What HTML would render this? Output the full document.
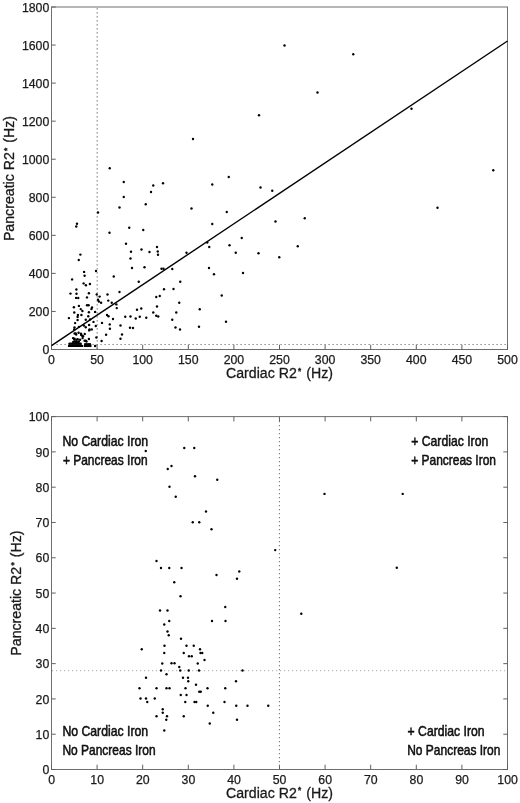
<!DOCTYPE html>
<html><head><meta charset="utf-8"><title>Cardiac vs Pancreatic R2*</title>
<style>
html,body{margin:0;padding:0;background:#fff}
svg{display:block}
text{font-family:"Liberation Sans",sans-serif;fill:#1a1a1a}
.tk{font-size:12.3px;stroke:#1a1a1a;stroke-width:.25px}
.lb{font-size:14.8px;stroke:#1a1a1a;stroke-width:.3px}
.q{font-size:14px;fill:#000;stroke:#000;stroke-width:.5px}
</style></head><body>
<svg width="520" height="803" viewBox="0 0 520 803">
<rect width="520" height="803" fill="#fff"/>

<g fill="none" stroke="#6e6e6e" stroke-width="1">
<rect x="51.5" y="7" width="456.0" height="342.5"/>
<path d="M51.5 349.5v-4.8M97.1 349.5v-4.8M142.7 349.5v-4.8M188.3 349.5v-4.8M233.9 349.5v-4.8M279.5 349.5v-4.8M325.1 349.5v-4.8M370.7 349.5v-4.8M416.3 349.5v-4.8M461.9 349.5v-4.8M507.5 349.5v-4.8M51.5 349.5h4.2M51.5 311.445h4.2M51.5 273.39h4.2M51.5 235.335h4.2M51.5 197.28h4.2M51.5 159.225h4.2M51.5 121.17h4.2M51.5 83.115h4.2M51.5 45.06h4.2M51.5 7.005h4.2" stroke="#606060"/>
</g>
<g fill="none" stroke="#777" stroke-width="1.2" stroke-dasharray="1.2 2.8">
<path d="M97.2 8.2V349.5"/>
<path d="M52.5 344.5H507.5"/>
</g>
<path d="M51.5 345.6L507.5 41" stroke="#000" stroke-width="1.4" fill="none"/>
<g fill="#000"><circle cx="284.5" cy="45.5" r="1.2"/><circle cx="353.25" cy="54.25" r="1.2"/><circle cx="317.5" cy="92.5" r="1.2"/><circle cx="109.75" cy="168.25" r="1.2"/><circle cx="123.75" cy="182" r="1.2"/><circle cx="153.25" cy="185.5" r="1.2"/><circle cx="163" cy="183.25" r="1.2"/><circle cx="151" cy="192" r="1.2"/><circle cx="123.75" cy="197" r="1.2"/><circle cx="259" cy="115.25" r="1.2"/><circle cx="193" cy="139" r="1.2"/><circle cx="228.75" cy="177" r="1.2"/><circle cx="212.25" cy="184.5" r="1.2"/><circle cx="260.5" cy="187.5" r="1.2"/><circle cx="272.25" cy="190.75" r="1.2"/><circle cx="411.5" cy="108.75" r="1.2"/><circle cx="493.25" cy="170.25" r="1.2"/><circle cx="119.5" cy="207.5" r="1.2"/><circle cx="145.75" cy="204.25" r="1.2"/><circle cx="98" cy="212.5" r="1.2"/><circle cx="77" cy="223.75" r="1.2"/><circle cx="76.25" cy="226.5" r="1.2"/><circle cx="109.5" cy="232.75" r="1.2"/><circle cx="129.25" cy="227.75" r="1.2"/><circle cx="143.25" cy="230" r="1.2"/><circle cx="126" cy="243.75" r="1.2"/><circle cx="157" cy="247" r="1.2"/><circle cx="141.5" cy="249.5" r="1.2"/><circle cx="131" cy="251.75" r="1.2"/><circle cx="149.5" cy="252" r="1.2"/><circle cx="157.75" cy="251.5" r="1.2"/><circle cx="158" cy="254.75" r="1.2"/><circle cx="130.5" cy="258.5" r="1.2"/><circle cx="132" cy="268" r="1.2"/><circle cx="144.5" cy="267.25" r="1.2"/><circle cx="161.5" cy="268.75" r="1.2"/><circle cx="163.5" cy="268.75" r="1.2"/><circle cx="172.25" cy="269" r="1.2"/><circle cx="113.75" cy="276.5" r="1.2"/><circle cx="138.75" cy="281.75" r="1.2"/><circle cx="180.25" cy="281.75" r="1.2"/><circle cx="164" cy="289.25" r="1.2"/><circle cx="173.5" cy="289" r="1.2"/><circle cx="119.5" cy="292" r="1.2"/><circle cx="159.75" cy="296" r="1.2"/><circle cx="156.25" cy="297" r="1.2"/><circle cx="80.4" cy="254.6" r="1.2"/><circle cx="78.75" cy="260" r="1.2"/><circle cx="96" cy="271" r="1.2"/><circle cx="84.1" cy="271.9" r="1.2"/><circle cx="84.6" cy="275.75" r="1.2"/><circle cx="72.1" cy="279.4" r="1.2"/><circle cx="83.6" cy="283.4" r="1.2"/><circle cx="85.9" cy="285.25" r="1.2"/><circle cx="89.9" cy="284" r="1.2"/><circle cx="76.4" cy="289.5" r="1.2"/><circle cx="70.5" cy="293.6" r="1.2"/><circle cx="76.5" cy="293.75" r="1.2"/><circle cx="88.9" cy="293.25" r="1.2"/><circle cx="96.75" cy="294.5" r="1.2"/><circle cx="99.6" cy="296.6" r="1.2"/><circle cx="107.5" cy="294.5" r="1.2"/><circle cx="76.1" cy="297.9" r="1.2"/><circle cx="78.25" cy="298" r="1.2"/><circle cx="87" cy="297.4" r="1.2"/><circle cx="98" cy="299.75" r="1.2"/><circle cx="191.5" cy="208.5" r="1.2"/><circle cx="226.75" cy="212" r="1.2"/><circle cx="212.25" cy="224" r="1.2"/><circle cx="275.5" cy="221.5" r="1.2"/><circle cx="304.75" cy="218.25" r="1.2"/><circle cx="241.75" cy="238" r="1.2"/><circle cx="207.25" cy="242.5" r="1.2"/><circle cx="209.25" cy="247" r="1.2"/><circle cx="229.5" cy="245.25" r="1.2"/><circle cx="297.75" cy="246.25" r="1.2"/><circle cx="186.5" cy="252.75" r="1.2"/><circle cx="235.75" cy="252.75" r="1.2"/><circle cx="258.5" cy="253.25" r="1.2"/><circle cx="279.25" cy="257.25" r="1.2"/><circle cx="209" cy="268" r="1.2"/><circle cx="214" cy="274.25" r="1.2"/><circle cx="243" cy="273" r="1.2"/><circle cx="221.75" cy="295.5" r="1.2"/><circle cx="437.5" cy="207.75" r="1.2"/><circle cx="73.9" cy="307.25" r="1.2"/><circle cx="78.9" cy="305.9" r="1.2"/><circle cx="87" cy="305.25" r="1.2"/><circle cx="88.6" cy="305.25" r="1.2"/><circle cx="92" cy="307.5" r="1.2"/><circle cx="91.4" cy="309.1" r="1.2"/><circle cx="80.75" cy="309.1" r="1.2"/><circle cx="82.4" cy="311" r="1.2"/><circle cx="74.25" cy="312.5" r="1.2"/><circle cx="88.9" cy="312.25" r="1.2"/><circle cx="95.1" cy="311.9" r="1.2"/><circle cx="77.9" cy="315" r="1.2"/><circle cx="77.6" cy="316.9" r="1.2"/><circle cx="81.4" cy="315" r="1.2"/><circle cx="88.25" cy="316.25" r="1.2"/><circle cx="68.9" cy="318.1" r="1.2"/><circle cx="77.6" cy="320" r="1.2"/><circle cx="85.75" cy="319.75" r="1.2"/><circle cx="90.1" cy="319.4" r="1.2"/><circle cx="75.1" cy="323.1" r="1.2"/><circle cx="93.5" cy="321.9" r="1.2"/><circle cx="102" cy="322.9" r="1.2"/><circle cx="107" cy="315" r="1.2"/><circle cx="108.5" cy="316.25" r="1.2"/><circle cx="113" cy="319" r="1.2"/><circle cx="109.75" cy="324.4" r="1.2"/><circle cx="109.9" cy="328.75" r="1.2"/><circle cx="106.1" cy="334.75" r="1.2"/><circle cx="101.6" cy="341" r="1.2"/><circle cx="96.4" cy="337.5" r="1.2"/><circle cx="95.75" cy="326" r="1.2"/><circle cx="89.1" cy="325" r="1.2"/><circle cx="83.9" cy="325.6" r="1.2"/><circle cx="85.75" cy="327.25" r="1.2"/><circle cx="89.5" cy="329.4" r="1.2"/><circle cx="91.75" cy="329.4" r="1.2"/><circle cx="74.5" cy="327.5" r="1.2"/><circle cx="74.25" cy="329.4" r="1.2"/><circle cx="78.9" cy="326.9" r="1.2"/><circle cx="75.75" cy="333.5" r="1.2"/><circle cx="78.6" cy="332.75" r="1.2"/><circle cx="81" cy="333.75" r="1.2"/><circle cx="82" cy="335.6" r="1.2"/><circle cx="84.75" cy="334" r="1.2"/><circle cx="74.5" cy="338.75" r="1.2"/><circle cx="76.4" cy="339.75" r="1.2"/><circle cx="80.1" cy="339.75" r="1.2"/><circle cx="82.6" cy="338.1" r="1.2"/><circle cx="85.75" cy="340.6" r="1.2"/><circle cx="88.9" cy="339" r="1.2"/><circle cx="95.1" cy="346" r="1.2"/><circle cx="98.9" cy="301.5" r="1.2"/><circle cx="101.1" cy="302.75" r="1.2"/><circle cx="108.25" cy="300.6" r="1.2"/><circle cx="111.75" cy="302.75" r="1.2"/><circle cx="116.4" cy="304.4" r="1.2"/><circle cx="116.75" cy="308.1" r="1.2"/><circle cx="73.1" cy="338.1" r="1.2"/><circle cx="74.2" cy="339.6" r="1.2"/><circle cx="77.7" cy="339.2" r="1.2"/><circle cx="75" cy="341.5" r="1.2"/><circle cx="77" cy="342" r="1.2"/><circle cx="78.8" cy="341.5" r="1.2"/><circle cx="84.6" cy="340.8" r="1.2"/><circle cx="86.5" cy="341.5" r="1.2"/><circle cx="81.2" cy="335" r="1.2"/><circle cx="83" cy="336.2" r="1.2"/><circle cx="76.2" cy="334.6" r="1.2"/><circle cx="74.6" cy="333.5" r="1.2"/><circle cx="89.2" cy="330.4" r="1.2"/><circle cx="179.25" cy="302.75" r="1.2"/><circle cx="157" cy="306.5" r="1.2"/><circle cx="141.25" cy="308.5" r="1.2"/><circle cx="137" cy="309.75" r="1.2"/><circle cx="199.75" cy="309.25" r="1.2"/><circle cx="153.25" cy="312.5" r="1.2"/><circle cx="176.25" cy="312.5" r="1.2"/><circle cx="156.25" cy="315.75" r="1.2"/><circle cx="158.25" cy="316.5" r="1.2"/><circle cx="125.25" cy="316.75" r="1.2"/><circle cx="130.5" cy="316.5" r="1.2"/><circle cx="139.75" cy="316.75" r="1.2"/><circle cx="135.75" cy="318.5" r="1.2"/><circle cx="146.25" cy="317.75" r="1.2"/><circle cx="172.25" cy="319.75" r="1.2"/><circle cx="226" cy="321.75" r="1.2"/><circle cx="120.5" cy="325.5" r="1.2"/><circle cx="130" cy="327.75" r="1.2"/><circle cx="133" cy="328" r="1.2"/><circle cx="175.5" cy="327.5" r="1.2"/><circle cx="180" cy="329.5" r="1.2"/><circle cx="199" cy="326.75" r="1.2"/><circle cx="122" cy="334.5" r="1.2"/><circle cx="120.5" cy="338.75" r="1.2"/><circle cx="69.5" cy="343.7" r="1.2"/><circle cx="70.9" cy="343.7" r="1.2"/><circle cx="72.3" cy="343.7" r="1.2"/><circle cx="73.7" cy="343.7" r="1.2"/><circle cx="75.1" cy="343.7" r="1.2"/><circle cx="76.5" cy="343.7" r="1.2"/><circle cx="77.9" cy="343.7" r="1.2"/><circle cx="79.3" cy="343.7" r="1.2"/><circle cx="80.7" cy="343.7" r="1.2"/><circle cx="69" cy="345.9" r="1.2"/><circle cx="70.3" cy="345.9" r="1.2"/><circle cx="71.6" cy="345.9" r="1.2"/><circle cx="72.9" cy="345.9" r="1.2"/><circle cx="74.2" cy="345.9" r="1.2"/><circle cx="75.5" cy="345.9" r="1.2"/><circle cx="76.8" cy="345.9" r="1.2"/><circle cx="78.1" cy="345.9" r="1.2"/><circle cx="79.4" cy="345.9" r="1.2"/><circle cx="80.7" cy="345.9" r="1.2"/><circle cx="82" cy="345.9" r="1.2"/><circle cx="84.8" cy="345.9" r="1.2"/><circle cx="86.2" cy="345.9" r="1.2"/><circle cx="87.6" cy="345.9" r="1.2"/><circle cx="89" cy="345.9" r="1.2"/><circle cx="90.4" cy="345.9" r="1.2"/><circle cx="85.2" cy="344.2" r="1.2"/><circle cx="86.8" cy="344.2" r="1.2"/><circle cx="88.4" cy="344.2" r="1.2"/><circle cx="90" cy="344.2" r="1.2"/><circle cx="75.5" cy="342.3" r="1.2"/><circle cx="78.2" cy="342.4" r="1.2"/><circle cx="73.2" cy="342" r="1.2"/></g>
<g class="tk" text-anchor="end">
<text x="49.3" y="354.20">0</text>
<text x="49.3" y="316.14">200</text>
<text x="49.3" y="278.09">400</text>
<text x="49.3" y="240.03">600</text>
<text x="49.3" y="201.98">800</text>
<text x="49.3" y="163.92">1000</text>
<text x="49.3" y="125.87">1200</text>
<text x="49.3" y="87.82">1400</text>
<text x="49.3" y="49.76">1600</text>
<text x="49.3" y="11.70">1800</text>
</g>
<g class="tk" text-anchor="middle">
<text x="51.5" y="363.6">0</text>
<text x="97.1" y="363.6">50</text>
<text x="142.7" y="363.6">100</text>
<text x="188.3" y="363.6">150</text>
<text x="233.9" y="363.6">200</text>
<text x="279.5" y="363.6">250</text>
<text x="325.1" y="363.6">300</text>
<text x="370.7" y="363.6">350</text>
<text x="416.3" y="363.6">400</text>
<text x="461.9" y="363.6">450</text>
<text x="507.5" y="363.6">500</text>
</g>
<text class="lb" text-anchor="middle" transform="translate(279.5 378.1) scale(.957 1)">Cardiac R2<tspan font-size="8.5" font-weight="bold" dx="1.4" dy="-4.4">*</tspan><tspan dy="4.4" dx="1.2"> (Hz)</tspan></text>
<text class="lb" text-anchor="middle" transform="translate(14 178.5) rotate(-90) scale(.957 1)">Pancreatic R2<tspan font-size="8.5" font-weight="bold" dx="1.4" dy="-4.4">*</tspan><tspan dy="4.4" dx="1.2"> (Hz)</tspan></text>
<g fill="none" stroke="#6e6e6e" stroke-width="1">
<rect x="51.5" y="416.6" width="456.0" height="352.9"/>
<path d="M51.5 769.5v-4.8M51.5 416.6v4.8M97.1 769.5v-4.8M97.1 416.6v4.8M142.7 769.5v-4.8M142.7 416.6v4.8M188.3 769.5v-4.8M188.3 416.6v4.8M233.9 769.5v-4.8M233.9 416.6v4.8M279.5 769.5v-4.8M279.5 416.6v4.8M325.1 769.5v-4.8M325.1 416.6v4.8M370.7 769.5v-4.8M370.7 416.6v4.8M416.3 769.5v-4.8M416.3 416.6v4.8M461.9 769.5v-4.8M461.9 416.6v4.8M507.5 769.5v-4.8M507.5 416.6v4.8M51.5 769.5h4.2M507.5 769.5h-4.2M51.5 734.21h4.2M507.5 734.21h-4.2M51.5 698.92h4.2M507.5 698.92h-4.2M51.5 663.63h4.2M507.5 663.63h-4.2M51.5 628.34h4.2M507.5 628.34h-4.2M51.5 593.05h4.2M507.5 593.05h-4.2M51.5 557.76h4.2M507.5 557.76h-4.2M51.5 522.47h4.2M507.5 522.47h-4.2M51.5 487.18h4.2M507.5 487.18h-4.2M51.5 451.89h4.2M507.5 451.89h-4.2M51.5 416.6h4.2M507.5 416.6h-4.2" stroke="#606060"/>
</g>
<g fill="none" stroke="#777" stroke-width="1.1" stroke-dasharray="1.2 2.8">
<path d="M279.4 417.0V769.5"/>
<path d="M52.0 670.6H507.5" stroke="#bcbcbc"/>
</g>
<g fill="#000"><circle cx="145.75" cy="451" r="1.2"/><circle cx="167.75" cy="469" r="1.2"/><circle cx="171.5" cy="466" r="1.2"/><circle cx="169.5" cy="486.75" r="1.2"/><circle cx="175.75" cy="496.75" r="1.2"/><circle cx="184.25" cy="448" r="1.2"/><circle cx="194.25" cy="448" r="1.2"/><circle cx="195" cy="476.25" r="1.2"/><circle cx="217.25" cy="479.75" r="1.2"/><circle cx="206" cy="511.5" r="1.2"/><circle cx="192.75" cy="522.25" r="1.2"/><circle cx="199.25" cy="522.25" r="1.2"/><circle cx="211.5" cy="529.25" r="1.2"/><circle cx="156.5" cy="561" r="1.2"/><circle cx="161" cy="568" r="1.2"/><circle cx="169.25" cy="568" r="1.2"/><circle cx="181.5" cy="568" r="1.2"/><circle cx="216.5" cy="575" r="1.2"/><circle cx="239.25" cy="571.5" r="1.2"/><circle cx="237" cy="578.75" r="1.2"/><circle cx="174.25" cy="582.25" r="1.2"/><circle cx="180.5" cy="596.25" r="1.2"/><circle cx="160" cy="610.5" r="1.2"/><circle cx="167.5" cy="610.5" r="1.2"/><circle cx="225.25" cy="607" r="1.2"/><circle cx="169.25" cy="621" r="1.2"/><circle cx="212" cy="621" r="1.2"/><circle cx="225.5" cy="621" r="1.2"/><circle cx="164.25" cy="624.5" r="1.2"/><circle cx="167.5" cy="631.5" r="1.2"/><circle cx="168.75" cy="635.25" r="1.2"/><circle cx="181" cy="638.75" r="1.2"/><circle cx="164.5" cy="645.75" r="1.2"/><circle cx="186.5" cy="645.75" r="1.2"/><circle cx="193.75" cy="645.75" r="1.2"/><circle cx="141.75" cy="649.25" r="1.2"/><circle cx="200" cy="649.25" r="1.2"/><circle cx="164.25" cy="653" r="1.2"/><circle cx="183.75" cy="653" r="1.2"/><circle cx="200.5" cy="653" r="1.2"/><circle cx="202.25" cy="653" r="1.2"/><circle cx="189" cy="656.25" r="1.2"/><circle cx="191.75" cy="656.25" r="1.2"/><circle cx="204.5" cy="660" r="1.2"/><circle cx="162.25" cy="663.5" r="1.2"/><circle cx="171.5" cy="663.25" r="1.2"/><circle cx="174.5" cy="663.25" r="1.2"/><circle cx="197.75" cy="663.5" r="1.2"/><circle cx="179.25" cy="667" r="1.2"/><circle cx="161" cy="670.5" r="1.2"/><circle cx="180.25" cy="670.5" r="1.2"/><circle cx="188.75" cy="670.5" r="1.2"/><circle cx="199" cy="670.5" r="1.2"/><circle cx="242.5" cy="670.5" r="1.2"/><circle cx="166.5" cy="674.25" r="1.2"/><circle cx="146" cy="677.75" r="1.2"/><circle cx="183" cy="677.75" r="1.2"/><circle cx="188" cy="677.75" r="1.2"/><circle cx="188.25" cy="681.25" r="1.2"/><circle cx="236" cy="681.25" r="1.2"/><circle cx="196" cy="684.75" r="1.2"/><circle cx="139.5" cy="688.25" r="1.2"/><circle cx="156.5" cy="688.25" r="1.2"/><circle cx="166.5" cy="688.25" r="1.2"/><circle cx="169.5" cy="688.25" r="1.2"/><circle cx="185.5" cy="688.25" r="1.2"/><circle cx="207.5" cy="688.25" r="1.2"/><circle cx="225.25" cy="688.25" r="1.2"/><circle cx="199.25" cy="691.75" r="1.2"/><circle cx="200.75" cy="691.75" r="1.2"/><circle cx="180.75" cy="695" r="1.2"/><circle cx="186.5" cy="695" r="1.2"/><circle cx="140.5" cy="698.5" r="1.2"/><circle cx="146" cy="698.5" r="1.2"/><circle cx="154.75" cy="698.5" r="1.2"/><circle cx="147.25" cy="702" r="1.2"/><circle cx="185.25" cy="702" r="1.2"/><circle cx="194.5" cy="702" r="1.2"/><circle cx="196.25" cy="702" r="1.2"/><circle cx="224.5" cy="702" r="1.2"/><circle cx="207.75" cy="705.75" r="1.2"/><circle cx="236.25" cy="705.75" r="1.2"/><circle cx="247.5" cy="705.75" r="1.2"/><circle cx="268.25" cy="705.75" r="1.2"/><circle cx="162.75" cy="709.25" r="1.2"/><circle cx="162.75" cy="712.75" r="1.2"/><circle cx="213.25" cy="712.75" r="1.2"/><circle cx="156.5" cy="716.25" r="1.2"/><circle cx="167" cy="716.25" r="1.2"/><circle cx="183.75" cy="716.25" r="1.2"/><circle cx="166.25" cy="719.75" r="1.2"/><circle cx="237" cy="719.75" r="1.2"/><circle cx="209.75" cy="723.5" r="1.2"/><circle cx="164.25" cy="730.5" r="1.2"/><circle cx="324.5" cy="493.9" r="1.2"/><circle cx="402.7" cy="493.9" r="1.2"/><circle cx="275.2" cy="550.1" r="1.2"/><circle cx="396.8" cy="567.7" r="1.2"/><circle cx="301.3" cy="613.8" r="1.2"/></g>
<g class="tk" text-anchor="end">
<text x="49.3" y="774.20">0</text>
<text x="49.3" y="738.91">10</text>
<text x="49.3" y="703.62">20</text>
<text x="49.3" y="668.33">30</text>
<text x="49.3" y="633.04">40</text>
<text x="49.3" y="597.75">50</text>
<text x="49.3" y="562.46">60</text>
<text x="49.3" y="527.17">70</text>
<text x="49.3" y="491.88">80</text>
<text x="49.3" y="456.59">90</text>
<text x="49.3" y="421.30">100</text>
</g>
<g class="tk" text-anchor="middle">
<text x="51.6" y="784.2">0</text>
<text x="97.2" y="784.2">10</text>
<text x="142.8" y="784.2">20</text>
<text x="188.4" y="784.2">30</text>
<text x="234" y="784.2">40</text>
<text x="279.6" y="784.2">50</text>
<text x="325.2" y="784.2">60</text>
<text x="370.8" y="784.2">70</text>
<text x="416.4" y="784.2">80</text>
<text x="462" y="784.2">90</text>
<text x="507.6" y="784.2">100</text>
</g>
<text class="lb" text-anchor="middle" transform="translate(279.5 797.5) scale(.957 1)">Cardiac R2<tspan font-size="8.5" font-weight="bold" dx="1.4" dy="-4.4">*</tspan><tspan dy="4.4" dx="1.2"> (Hz)</tspan></text>
<text class="lb" text-anchor="middle" transform="translate(20.9 593.1) rotate(-90) scale(.957 1)">Pancreatic R2<tspan font-size="8.5" font-weight="bold" dx="1.4" dy="-4.4">*</tspan><tspan dy="4.4" dx="1.2"> (Hz)</tspan></text>
<g class="q">
<text transform="translate(62.4 446.0) scale(0.875 1)">No Cardiac Iron</text>
<text transform="translate(62.9 464.9) scale(0.855 1)">+ Pancreas Iron</text>
<text transform="translate(411.2 445.5) scale(0.873 1)">+ Cardiac Iron</text>
<text transform="translate(411.2 464.5) scale(0.855 1)">+ Pancreas Iron</text>
<text transform="translate(62.4 735.5) scale(0.875 1)">No Cardiac Iron</text>
<text transform="translate(62.4 754.8) scale(0.857 1)">No Pancreas Iron</text>
<text transform="translate(407.6 735.5) scale(0.873 1)">+ Cardiac Iron</text>
<text transform="translate(407.2 754.8) scale(0.857 1)">No Pancreas Iron</text>
</g>
</svg></body></html>
